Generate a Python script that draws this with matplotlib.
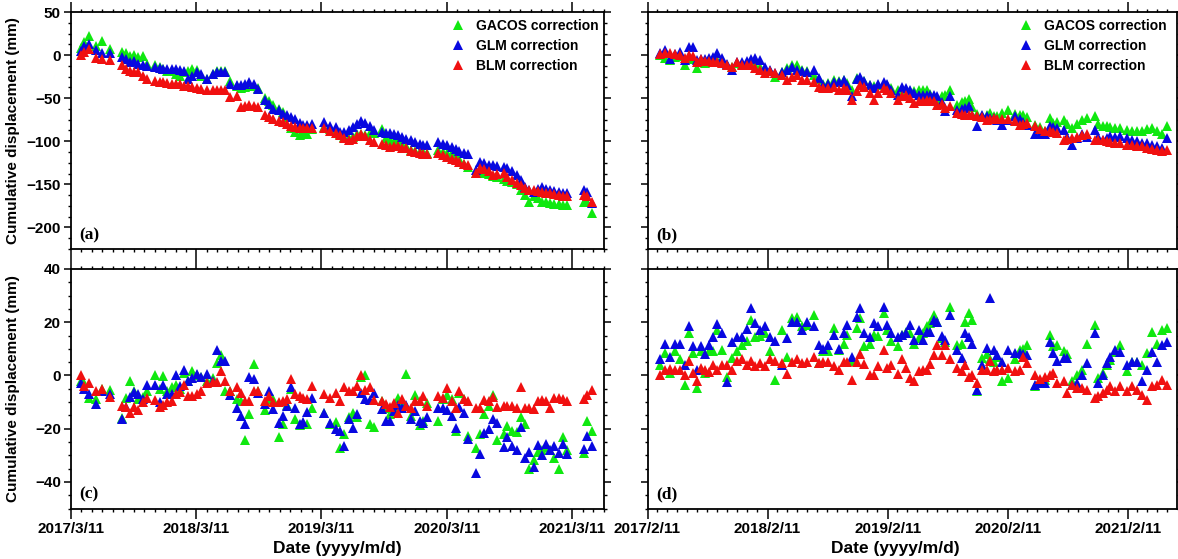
import numpy as np
import matplotlib
matplotlib.use("Agg")
import matplotlib.pyplot as plt
import matplotlib.dates as mdates
from matplotlib.ticker import MultipleLocator

# ---- data ----
# left column (a, c): day offsets from 2017/3/11
start_left = "2017-03-11"
days_left = [29, 39, 52, 74, 90, 115, 149, 161, 173, 185,
             197, 210, 222, 246, 259, 270, 282, 295, 306, 319,
             330, 343, 355, 367, 379, 397, 414, 426, 437, 450,
             463, 484, 496, 508, 521, 533, 547, 567, 579, 591,
             606, 618, 630, 642, 654, 667, 678, 690, 703, 737,
             756, 774, 785, 797, 810, 822, 834, 846, 858, 871,
             883, 907, 920, 931, 941, 953, 965, 978, 991, 1004,
             1017, 1028, 1038, 1072, 1085, 1098, 1111, 1124, 1133, 1145,
             1158, 1182, 1194, 1206, 1218, 1231, 1242, 1262, 1273, 1286,
             1301, 1313, 1325, 1337, 1349, 1361, 1373, 1386, 1398, 1409,
             1422, 1434, 1446, 1495, 1505, 1519]

a_gacos = [8, 15, 22, 10, 16.5, 7, 4, 3, -1, 0,
           -2, -1, -10, -12, -14, -16, -18, -19, -22, -24,
           -20, -18, -16, -17, -24, -28, -22, -19, -18, -18,
           -30, -36, -38, -37, -35.4, -36, -38, -50, -53, -58,
           -62, -66, -72, -85, -89, -93, -92, -91, -86, -84,
           -86, -88, -92, -95, -96, -95, -92, -92, -93, -90,
           -90, -85.4, -96, -99, -100, -100, -104, -106, -110, -111,
           -112, -113, -114, -110, -112, -114, -114, -118, -120, -126,
           -130, -137, -137, -137, -138, -140, -141, -144, -146, -147,
           -149, -156, -162, -170, -164, -166, -170, -171, -172, -173,
           -173, -174, -174, -170, -171, -183.5]
a_glm = [5, 10, 13, 6, 3, 3, -2, -4.6, -8.5, -7,
         -10, -12, -13, -14, -15, -16, -16, -16, -16, -17,
         -18, -28, -24, -20, -22, -28, -22, -20, -20, -20,
         -33.5, -35, -35, -34, -31.5, -34, -39, -52, -57, -62,
         -64, -68, -70, -72, -74, -79, -81.5, -81.5, -80, -78,
         -82, -84, -89, -89, -87, -84, -80, -76, -79, -82,
         -87, -89, -90, -90, -91, -93, -95, -97, -99, -101,
         -103, -104, -104.6, -101, -102.7, -104, -106.5, -109, -111, -114,
         -115, -133.5, -124, -125, -127.7, -127.7, -129, -129.6, -131, -135,
         -139, -145, -152.7, -156, -158.5, -155, -153, -155, -156.5, -158,
         -159, -160, -160, -156.5, -158.5, -172]
a_blm = [0, 4, 7, -3, -4.6, -6, -12, -16, -18, -20,
         -20, -24, -28, -29.6, -31, -31.5, -32.7, -33, -33.5, -34,
         -35.4, -36, -37, -38, -39, -41, -40, -40, -40, -40,
         -49, -47, -60, -59, -58, -59, -60, -70, -72, -74,
         -76, -78, -80, -82, -83, -85, -85, -85, -85, -85,
         -88, -90, -93, -96, -99, -97, -94, -91, -94, -98,
         -100.8, -102.7, -104, -106.5, -106, -106, -107.3, -108, -111, -112,
         -113.5, -115, -115, -114, -116, -118, -120, -122, -124, -126,
         -128, -137, -131.5, -132, -135, -139, -138, -137, -141, -145,
         -148, -151, -154.6, -156, -156.5, -158, -158.5, -160, -160, -161,
         -162, -163, -164, -162, -164, -170]

c_gacos = [-2, -3, -8.6, -9, -5, -5.3, -16, -8.6, -2.2, -6,
           -9, -8, -6, 0.2, -5, -0.1, -6, -4.5, -3.5, -5,
           0.9, -2, 1.5, 0, -0.4, -2, -1, 4.6, 7.7, -6,
           -6, -9, -9.6, -24.2, -14.6, 4.2, -6, -13.1, -9, -9,
           -23, -18.3, -11, -5, -16.4, -18.5, -18, -18.3, -12.1, -14,
           -18.3, -17.6, -27.3, -22, -15.6, -14, -15.8, -0.4, 0.2, -18.3,
           -19.5, -9.6, -12.1, -14.6, -12, -8.4, -10, 0.5, -15.2, -7.2,
           -18.5, -17, -10.2, -17, -9, -7.2, -9, -20.7, -6.5, -9,
           -22.6, -27.3, -22, -14.6, -11.5, -7.2, -24.4, -22, -18.9, -21,
           -21.4, -15.8, -18.3, -35.3, -31.6, -28.8, -28, -27, -28.1, -30.9,
           -35.3, -23.2, -28, -29, -17, -21]
c_glm = [-3, -5, -7, -10.6, -6, -7, -16.4, -12, -8, -6.3,
         -7, -9, -3.5, -3.5, -10, -3.5, -6.9, -7, 0, -4,
         2.1, -2, -1, 0.5, -0.4, 0.5, -2, 9.5, 5.6, 5.4,
         -7.2, -12.3, -15.2, -18.3, -0.7, -1.2, -6.5, -10.9, -6, -12.7,
         -18, -15.2, -11.5, -4.4, -12.1, -18.3, -17.5, -13.7, -8.4, -14.3,
         -17.7, -20.1, -20.7, -26.7, -16.4, -19.8, -14.6, -6.5, -9, -9.4,
         -6.5, -12.7, -17, -17, -13.3, -11, -12.1, -11, -16.4, -13.3,
         -17, -18, -15.6, -12.3, -12.3, -13.1, -15.2, -19.8, -12, -14.3,
         -23.8, -36.8, -29.4, -21.7, -20.1, -16.4, -17.7, -26.9, -23.2, -26.7,
         -27.9, -19.5, -30.9, -28.8, -34.3, -26.3, -30, -25.7, -28.1, -26.7,
         -29.1, -25.9, -29.4, -27.5, -22.6, -26.7]
c_blm = [0, -4, -3, -6, -5, -8, -11.5, -12, -14, -12,
         -13, -10, -8.6, -9.4, -12, -11, -10, -9.6, -7, -6.3,
         -3.5, -7.8, -7.8, -7, -6, -3, -2.5, -2.6, 1.5, -2,
         -5.7, -4.4, -6.7, -9.6, -9.6, -6, -6, -9.6, -7.8, -10,
         -10, -9.6, -9, -1.5, -7, -7.8, -8.6, -9, -4, -7,
         -8.4, -6.5, -9.6, -4.3, -6, -6, -4, 0.2, -5.3, -4.4,
         -9.3, -9.6, -10.9, -11.9, -10.2, -14.2, -9, -11.5, -12.1, -9.6,
         -9.6, -7.8, -11.5, -7.8, -8.4, -4.7, -9.6, -12.3, -5.7, -9,
         -9.6, -12.3, -12.1, -9.4, -9.6, -8.1, -11.9, -11.5, -11.5, -11.5,
         -12.3, -4.4, -12.1, -12.1, -12.7, -9.6, -9.4, -9.6, -12.1, -8.4,
         -8.6, -9, -9.6, -9, -7.2, -5.3]

# right column (b, d): day offsets from 2017/2/11
start_right = "2017-02-11"
days_right = [39, 54, 69, 84, 98, 115, 125, 138, 150, 162,
              176, 186, 199, 211, 226, 241, 257, 272, 287, 302,
              314, 328, 343, 358, 373, 388, 409, 424, 439, 454,
              469, 485, 505, 520, 535, 550, 566, 581, 596, 608,
              621, 637, 647, 659, 677, 689, 702, 718, 728, 740,
              763, 773, 786, 799, 809, 824, 837, 849, 859, 870,
              880, 895, 905, 920, 940, 956, 966, 976, 986, 1001,
              1016, 1032, 1042, 1052, 1062, 1077, 1097, 1118, 1133, 1143,
              1153, 1178, 1194, 1209, 1224, 1234, 1244, 1265, 1275, 1290,
              1305, 1320, 1335, 1361, 1371, 1386, 1396, 1406, 1422, 1437,
              1457, 1472, 1487, 1502, 1518, 1533, 1548, 1563, 1579]

b_gacos = [0, -3, -5.8, -2, -1, -11.5, -5, -5, -15.4, -8,
           -9, -8, -7.7, -6, -7, -12, -14, -9, -10, -9.6,
           -8, -12, -14, -16, -18, -25, -20, -15.4, -12, -11.5,
           -17.3, -19, -23, -28, -34, -32, -29, -30, -29, -32,
           -40, -27, -28, -30, -34.6, -36, -34.6, -34.6, -34.6, -38,
           -40, -40, -44, -42, -42, -41, -40, -40, -45, -50,
           -52, -48, -46, -40, -57.7, -55, -53, -51, -60, -68,
           -71, -69, -67, -71, -71, -67, -63.5, -68, -69, -69,
           -72, -80.8, -84, -88.5, -73, -79, -78, -75, -80, -84.6,
           -80, -75, -73, -71, -80, -82.7, -82.7, -84, -84.6, -85,
           -86.5, -88, -88.5, -88.5, -86, -84.6, -88, -92, -82.7]
b_glm = [2, 5.8, -4, 1, 3.8, -5.8, 9.6, 9.6, -6, -5,
         -5, -3.8, -2, 2.7, -3.8, -10, -17.3, -8, -8, -6.5,
         -5, -3.8, -5.8, -13.5, -17.3, -21, -19.2, -17, -13.5, -17.3,
         -19, -19.2, -17.3, -27, -34.6, -33, -31, -30.8, -28.8, -35,
         -48, -28, -25, -30, -34.6, -38, -34, -30.8, -34, -40,
         -46, -36.5, -38, -40, -44, -46, -46, -46, -46, -46,
         -48, -55, -65, -48, -63.5, -62, -61, -59.6, -70, -82.7,
         -69, -71, -73, -73, -75, -80.8, -75, -71, -74, -78,
         -80.8, -92, -92, -92, -82.7, -84, -84.6, -86.5, -95, -103.8,
         -96, -92, -95, -86.5, -95, -98, -96, -94, -95, -94,
         -96, -98, -100, -102, -102, -104, -106, -107.7, -96]
b_blm = [1, 2, 2, 1, 0, -3, 0, -1, -7.7, -5,
         -7, -7, -7.7, -7.7, -9.6, -11.5, -13.5, -7.7, -11.5, -11.5,
         -12, -15.4, -17, -21, -19, -21, -23, -28.8, -25, -23,
         -28.8, -28.8, -30.8, -36.5, -38.5, -38.5, -36.5, -40, -38.5, -40,
         -52, -42, -34.6, -36.5, -44, -52, -44, -38.5, -40, -44,
         -52, -48, -46, -50, -55.8, -53.8, -53, -52, -53.8, -53.8,
         -57.7, -57, -61.5, -58.8, -67, -68, -69, -69, -70, -71,
         -72, -75, -74, -73, -74, -74, -74, -76, -80.8, -80,
         -79, -82.7, -86, -88.5, -88.5, -89, -90.4, -98, -97, -96,
         -95, -93, -92, -98, -98, -99, -100, -101, -102, -102,
         -103.8, -104, -105, -106, -107.7, -109, -110, -111.5, -109.6]

d_gacos = [4, 8.4, 0.9, 9, 6, -3.5, 16, 8.4, -4.7, 9,
           1, 9, 9, 17, 9.6, -0.4, 6.5, 9, 11.5, 13,
           21, 14.6, 15, 16, 9, -1.6, 17, 7, 21.5, 22,
           18.4, 19, 22.7, 4.6, 9, 9, 17.7, 9.6, 12, 15.2,
           5.5, 18, 21.5, 11, 12, 15.2, 15, 23.4, 17, 13,
           11, 15.2, 16.5, 16, 12, 14, 16, 18.4, 19.6, 22.7,
           20, 14, 12.7, 25.9, 11.5, 12, 20.2, 23.4, 21, -6,
           6.5, 8, 6, 5.2, 7, -2.2, -1, 6, 9.6, 10,
           11.5, -4.1, -2, -1.6, 15.2, 11, 11.5, 9, 8, -2.2,
           0.2, 2, 12, 19, -1, 0.9, 4, 5.9, 8.9, 11.5,
           1.5, 5.2, 5, 4, 8.4, 16.2, 12, 17, 17.7]
d_glm = [6, 12, 7, 12, 12, 4, 18.4, 11, 2, 11,
         8, 11.5, 14.6, 19.3, 16, -2.5, 12.5, 14.6, 14.6, 17.5,
         25.5, 19.6, 17, 18.4, 14.6, 13, 4, 14, 20, 20,
         17, 20, 18.4, 11.5, 10, 11.5, 15.2, 10, 16, 19,
         7, 22, 25.5, 16, 14.6, 19.6, 18.4, 25.9, 19, 16,
         14.6, 15.2, 16, 19, 13.4, 17, 13.4, 16.2, 16.2, 21,
         20.2, 15, 13.4, 22.7, 9.6, 6.5, 16, 14.6, 12, -5.4,
         4, 10.2, 29, 9.6, 7.7, 5, 9.6, 8.4, 8.4, 8,
         7.7, -3.5, -3, -2.9, 12.7, 8.4, 5.5, 6.5, 6.5, -3.5,
         -2.9, 0.2, 4.6, 16, -2.9, 0.2, 4.6, 7, 9.6, 8.9,
         4, 5.2, 5.2, -2.2, 2, 8.9, 5.2, 11.5, 12.7]
d_blm = [0, 2, 2.5, 2, 2, 0.2, 5.5, 1, -2.2, 2.7,
         2, 1.2, 4, 2, 4, 4, 2, 5.5, 6, 4,
         5.5, 3.4, 4.6, 3.4, 6, 5.5, 4.6, 0.5, 5.2, 6,
         4.6, 5.2, 7, 4.6, 5.2, 5.2, 3.4, 2, 5, 5,
         -1.6, 5.2, 8, 4.2, 0.2, 0, 3.7, 9.6, 2.7, 4,
         0.5, 6, 2.7, -0.8, -2, 1.5, 2, 2, 4.2, 7.7,
         11.5, 7.7, 11.5, 6, 2.7, 1.5, 4, -0.4, 0.2, -2.9,
         2, 2, 5.5, 1.5, 2, 2, 2.7, 1.5, 2, 7,
         4.6, 0.2, -1.2, -0.4, 0.2, 0.9, -2.9, -2.2, -6.6, -3.5,
         -4.7, -4.7, -5.4, -8.5, -7.9, -6.6, -5.4, -4.1, -6, -4.1,
         -6, -4.1, -5.4, -7.2, -9.1, -4.1, -3.5, -1.6, -3.5]

series_names = ["GACOS correction", "GLM correction", "BLM correction"]
ticks_left = ["2017-03-11", "2018-03-11", "2019-03-11", "2020-03-11", "2021-03-11"]
ticks_right = ["2017-02-11", "2018-02-11", "2019-02-11", "2020-02-11", "2021-02-11"]
xlim_left = ["2017-03-11", "2021-06-11"]
xlim_right = ["2017-02-11", "2021-07-09"]

# ---- style ----
plt.rcParams.update({
    "font.family": "Liberation Sans",
    "font.weight": "bold",
    "font.size": 11,
    "axes.linewidth": 1.3,
})
colors = ["#10e810", "#0808e0", "#f01010"]

W, H = 1178, 559
fig = plt.figure(figsize=(W / 100, H / 100), dpi=100)


def to_dates(start, days):
    return np.datetime64(start) + np.array(days).astype("timedelta64[D]")


def fmt_date(s):
    y, m, d = s.split("-")
    return f"{int(y)}/{int(m)}/{int(d)}"


def make_ax(px):
    x0, y0, x1, y1 = px
    return fig.add_axes([x0 / W, 1 - y1 / H, (x1 - x0) / W, (y1 - y0) / H])


def style_ax(ax, ticks, xlim, ylim, ymaj, show_x, show_y):
    ax.set_xlim(mdates.date2num(np.datetime64(xlim[0])), mdates.date2num(np.datetime64(xlim[1])))
    ax.set_ylim(ylim)
    ax.set_xticks(mdates.date2num(np.array(ticks, dtype="datetime64[D]")))
    ax.set_xticklabels([fmt_date(t) for t in ticks] if show_x else [])
    ax.xaxis.set_minor_locator(mdates.MonthLocator(bymonthday=11))
    ax.yaxis.set_major_locator(MultipleLocator(ymaj))
    ax.yaxis.set_minor_locator(MultipleLocator(ymaj / 4))
    if not show_y:
        ax.set_yticklabels([])
    ax.tick_params(which="both", direction="out", top=True, right=True, width=1.1)
    ax.tick_params(axis="x", which="major", length=7.5, pad=2.5)
    ax.tick_params(axis="y", which="major", length=5, pad=2)
    ax.tick_params(which="minor", length=2.5, width=1.0)


panels = [
    ("(a)", (70.7, 12, 603.5, 249), start_left, days_left, [a_gacos, a_glm, a_blm],
     ticks_left, xlim_left, (-225, 50), 50, False, True, (1.01, 1.015)),
    ("(b)", (647.5, 12, 1176.7, 249), start_right, days_right, [b_gacos, b_glm, b_blm],
     ticks_right, xlim_right, (-225, 50), 50, False, False, (1.0, 1.015)),
    ("(c)", (70.7, 269, 603.5, 508.5), start_left, days_left, [c_gacos, c_glm, c_blm],
     ticks_left, xlim_left, (-50, 40), 20, True, True, None),
    ("(d)", (647.5, 269, 1176.7, 508.5), start_right, days_right, [d_gacos, d_glm, d_blm],
     ticks_right, xlim_right, (-50, 40), 20, True, False, None),
]

for tag, px, start, days, vals, ticks, xlim, ylim, ymaj, show_x, show_y, leg_anchor in panels:
    ax = make_ax(px)
    dates = to_dates(start, days)
    for v, c, name in zip(vals, colors, series_names):
        ax.plot(dates, v, linestyle="none", marker="^", ms=7, mew=0, color=c, label=name)
    style_ax(ax, ticks, xlim, ylim, ymaj, show_x, show_y)
    ax.text(0.016, 0.025, tag, transform=ax.transAxes, ha="left", va="bottom",
            family="Liberation Serif", fontsize=12.5, fontweight="bold")
    if leg_anchor is not None:
        ax.legend(loc="upper right", bbox_to_anchor=leg_anchor, frameon=False, fontsize=10,
                  handlelength=1.0, handletextpad=0.8, labelspacing=0.42, borderaxespad=0.35)

# shared labels
for yc in [(12 + 249) / 2, (269 + 508.5) / 2]:
    fig.text(13 / W, 1 - yc / H, "Cumulative displacement (mm)", rotation=90,
             ha="center", va="center", fontsize=11, fontweight="bold")
for xc in [337, 895]:
    fig.text(xc / W, 1 - 548 / H, "Date (yyyy/m/d)", ha="center", va="center",
             fontsize=12.5, fontweight="bold")

fig.savefig("out.png", dpi=100)
